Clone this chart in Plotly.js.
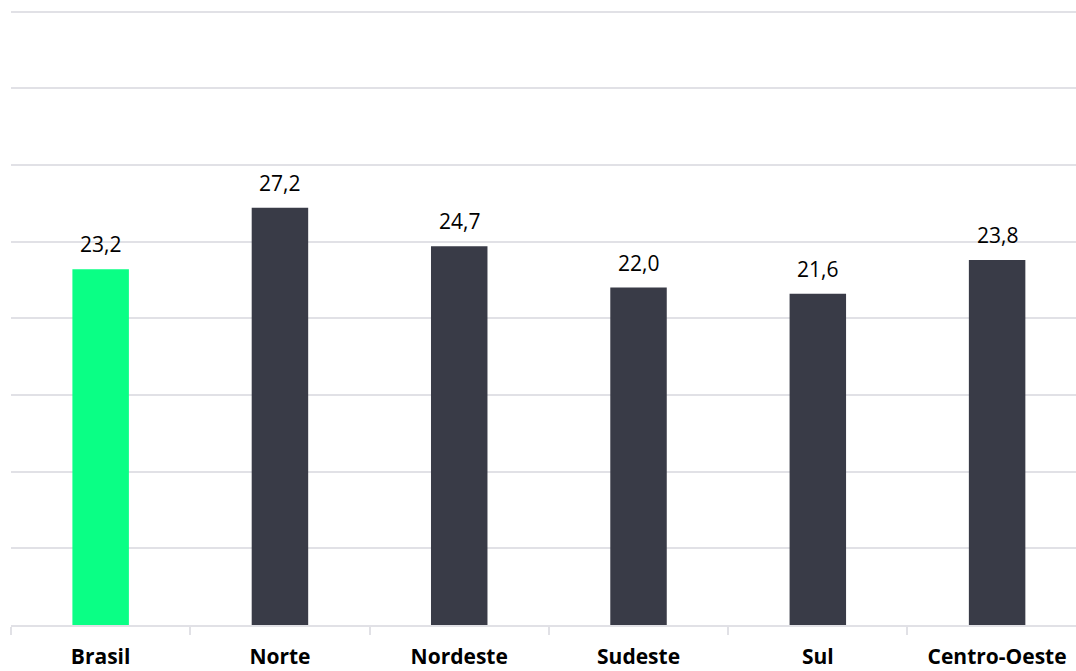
<!DOCTYPE html>
<html>
<head>
<meta charset="utf-8">
<script src="https://cdn.plot.ly/plotly-3.0.1.min.js"></script>
<style>html,body{margin:0;padding:0;background:#fff;}#chart{width:1076px;height:671px;}</style>
</head>
<body>
<div id="chart"></div>
<script>
const categories = ["Brasil", "Norte", "Nordeste", "Sudeste", "Sul", "Centro-Oeste"];
const values = [23.2, 27.2, 24.7, 22.0, 21.6, 23.8];
const barColors = ["#0AFF85", "#393B47", "#393B47", "#393B47", "#393B47", "#393B47"];

const trace = {
  type: "bar",
  x: categories,
  y: values,
  width: 0.315,
  marker: {color: barColors},
  hoverinfo: "skip"
};

const labelAnnotations = categories.map((c, i) => ({
  x: c,
  y: values[i],
  xref: "x",
  yref: "y",
  text: values[i].toFixed(1).replace(".", ","),
  showarrow: false,
  yanchor: "bottom",
  yshift: 9,
  font: {family: "Open Sans, sans-serif", size: 21, color: "#000"}
}));

const layout = {
  width: 1076,
  height: 671,
  margin: {l: 11, r: 0, t: 10, b: 46},
  paper_bgcolor: "#fff",
  plot_bgcolor: "#fff",
  separators: ",.",
  showlegend: false,
  font: {family: "Open Sans, sans-serif", color: "#000"},
  annotations: labelAnnotations,
  xaxis: {
    type: "category",
    range: [-0.5, 5.44],
    tickson: "boundaries",
    ticks: "outside",
    ticklen: 8,
    tickwidth: 2,
    tickcolor: "#e1e1e6",
    showline: true,
    linecolor: "#e1e1e6",
    linewidth: 2,
    showgrid: false,
    ticklabelstandoff: 12,
    tickfont: {family: "Open Sans, sans-serif", size: 21, color: "#000", weight: "bold"},
    fixedrange: true
  },
  yaxis: {
    range: [0, 40.1],
    dtick: 5,
    tick0: 0,
    showticklabels: false,
    gridcolor: "#e1e1e6",
    gridwidth: 2,
    zeroline: false,
    fixedrange: true
  }
};

Plotly.newPlot("chart", [trace], layout, {displayModeBar: false, staticPlot: true});
</script>
</body>
</html>
